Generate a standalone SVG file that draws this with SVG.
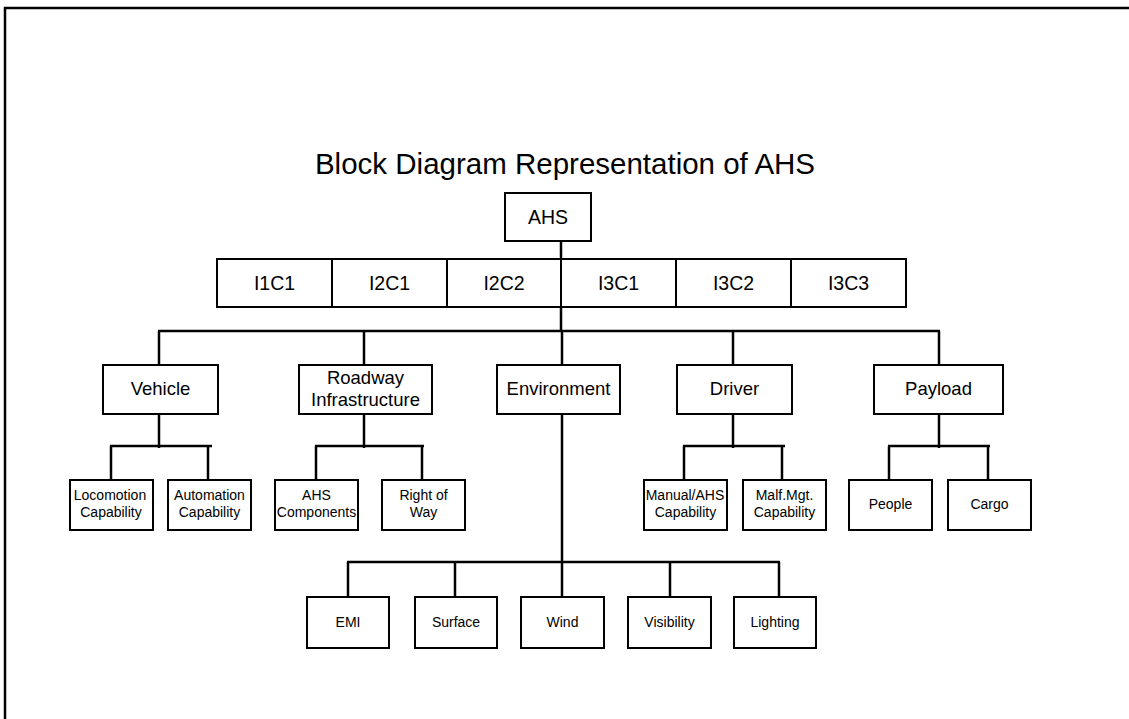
<svg xmlns="http://www.w3.org/2000/svg" width="1129" height="719" viewBox="0 0 1129 719">
<style>
.b{fill:#fff;stroke:#000;stroke-width:2}
.t{font-family:"Liberation Sans",Arial,sans-serif;fill:#000;text-anchor:middle}
.l1{font-size:19.5px}
.l2{font-size:18.5px}
.s{font-size:14px}
.c line{stroke:#000;stroke-width:2.5}
</style>
<rect width="1129" height="719" fill="#fff"/>
<g id="frame"><line x1="4" y1="8" x2="1129" y2="8" stroke="#000" stroke-width="2.5"/><line x1="5" y1="7" x2="5" y2="719" stroke="#000" stroke-width="2.5"/></g>
<text class="t" x="565" y="174" font-size="29.5">Block Diagram Representation of AHS</text>
<g class="c" id="connectors">
<line x1="561" y1="241" x2="561" y2="331"/>
<line x1="158" y1="331" x2="940" y2="331"/>
<line x1="159" y1="331" x2="159" y2="365"/>
<line x1="364" y1="331" x2="364" y2="365"/>
<line x1="562" y1="331" x2="562" y2="365"/>
<line x1="733" y1="331" x2="733" y2="365"/>
<line x1="939" y1="331" x2="939" y2="365"/>
<line x1="159" y1="414" x2="159" y2="448"/>
<line x1="110" y1="446" x2="212" y2="446"/>
<line x1="111" y1="446" x2="111" y2="480"/>
<line x1="208" y1="446" x2="208" y2="480"/>
<line x1="364" y1="414" x2="364" y2="448"/>
<line x1="315" y1="446" x2="424" y2="446"/>
<line x1="316" y1="446" x2="316" y2="480"/>
<line x1="422" y1="446" x2="422" y2="480"/>
<line x1="562" y1="414" x2="562" y2="597"/>
<line x1="347" y1="562" x2="780" y2="562"/>
<line x1="348" y1="562" x2="348" y2="597"/>
<line x1="455" y1="562" x2="455" y2="597"/>
<line x1="670" y1="562" x2="670" y2="597"/>
<line x1="779" y1="562" x2="779" y2="597"/>
<line x1="733" y1="414" x2="733" y2="448"/>
<line x1="683" y1="446" x2="785" y2="446"/>
<line x1="684" y1="446" x2="684" y2="480"/>
<line x1="782" y1="446" x2="782" y2="480"/>
<line x1="939" y1="414" x2="939" y2="448"/>
<line x1="888" y1="446" x2="990" y2="446"/>
<line x1="889" y1="446" x2="889" y2="480"/>
<line x1="988" y1="446" x2="988" y2="480"/>
</g>
<g id="ahs"><rect class="b" x="505" y="193" width="86" height="48"/><text class="t l1" x="548" y="224">AHS</text></g>
<g id="i1c1"><rect class="b" x="217" y="259" width="115" height="48"/><text class="t l1" x="274.5" y="290">I1C1</text></g>
<g id="i2c1"><rect class="b" x="332" y="259" width="115" height="48"/><text class="t l1" x="389.5" y="290">I2C1</text></g>
<g id="i2c2"><rect class="b" x="447" y="259" width="114" height="48"/><text class="t l1" x="504" y="290">I2C2</text></g>
<g id="i3c1"><rect class="b" x="561" y="259" width="115" height="48"/><text class="t l1" x="618.5" y="290">I3C1</text></g>
<g id="i3c2"><rect class="b" x="676" y="259" width="115" height="48"/><text class="t l1" x="733.5" y="290">I3C2</text></g>
<g id="i3c3"><rect class="b" x="791" y="259" width="115" height="48"/><text class="t l1" x="848.5" y="290">I3C3</text></g>
<g id="vehicle"><rect class="b" x="103" y="365" width="115" height="49"/><text class="t l2" x="160.5" y="395">Vehicle</text></g>
<g id="roadway"><rect class="b" x="299" y="365" width="133" height="49"/><text class="t l2" x="365.5" y="384">Roadway</text><text class="t l2" x="365.5" y="406">Infrastructure</text></g>
<g id="environment"><rect class="b" x="497" y="365" width="123" height="49"/><text class="t l2" x="558.5" y="395">Environment</text></g>
<g id="driver"><rect class="b" x="677" y="365" width="115" height="49"/><text class="t l2" x="734.5" y="395">Driver</text></g>
<g id="payload"><rect class="b" x="874" y="365" width="129" height="49"/><text class="t l2" x="938.5" y="395">Payload</text></g>
<g id="locomotion"><rect class="b" x="70" y="480" width="83" height="50"/><text class="t s" x="110" y="500">Locomotion</text><text class="t s" x="111" y="517">Capability</text></g>
<g id="automation"><rect class="b" x="168" y="480" width="83" height="50"/><text class="t s" x="209.5" y="500">Automation</text><text class="t s" x="209.5" y="517">Capability</text></g>
<g id="ahscomp"><rect class="b" x="275" y="480" width="83" height="50"/><text class="t s" x="316.5" y="500">AHS</text><text class="t s" x="316.5" y="517">Components</text></g>
<g id="rightofway"><rect class="b" x="382" y="480" width="83" height="50"/><text class="t s" x="423.5" y="500">Right of</text><text class="t s" x="423.5" y="517">Way</text></g>
<g id="manual"><rect class="b" x="644" y="480" width="83" height="50"/><text class="t s" x="685" y="500">Manual/AHS</text><text class="t s" x="685.5" y="517">Capability</text></g>
<g id="malf"><rect class="b" x="743" y="480" width="83" height="50"/><text class="t s" x="784.5" y="500">Malf.Mgt.</text><text class="t s" x="784.5" y="517">Capability</text></g>
<g id="people"><rect class="b" x="849" y="480" width="83" height="50"/><text class="t s" x="890.5" y="509">People</text></g>
<g id="cargo"><rect class="b" x="948" y="480" width="83" height="50"/><text class="t s" x="989.5" y="509">Cargo</text></g>
<g id="emi"><rect class="b" x="307" y="597" width="82" height="51"/><text class="t s" x="348" y="627">EMI</text></g>
<g id="surface"><rect class="b" x="415" y="597" width="82" height="51"/><text class="t s" x="456" y="627">Surface</text></g>
<g id="wind"><rect class="b" x="521" y="597" width="83" height="51"/><text class="t s" x="562.5" y="627">Wind</text></g>
<g id="visibility"><rect class="b" x="628" y="597" width="83" height="51"/><text class="t s" x="669.5" y="627">Visibility</text></g>
<g id="lighting"><rect class="b" x="734" y="597" width="82" height="51"/><text class="t s" x="775" y="627">Lighting</text></g>
</svg>
